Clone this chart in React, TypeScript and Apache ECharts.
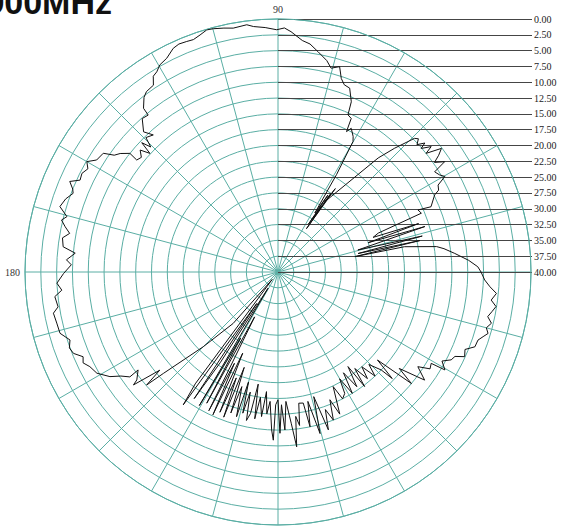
import React, { useEffect, useRef } from "react";
import * as echarts from "echarts";

// Measurement direction (degrees, counter-clockwise from the right) and attenuation (dB, 0 = outer ring)
const angleDeg = [
  0, 1.5, 3.5, 6, 8, 9.1, 11.3, 11.3, 12.5, 13, 14, 15.4, 17.2, 18, 19, 20, 21.2, 22.3, 23.9, 23.1,
  26.2, 27, 28.5, 29.8, 31, 32.6, 33.5, 35, 36, 37.1, 38.7, 39.3, 40.8, 41.3, 42.5, 43.5, 44.4, 46.7, 48.7, 56.4,
  55.5, 56.7, 56, 57, 56.5, 57.5, 57, 58, 59, 60.1, 61, 63, 64, 64.5, 66, 66.7, 68.7, 70.5, 71.9, 73.3,
  75.4, 77, 79.7, 82, 84, 86.9, 88.5, 90.3, 93, 95.7, 97.2, 100.4, 102.5, 104.9, 106.4, 108.2, 110, 111.6, 113.5, 115.1,
  117.5, 119.7, 121.2, 122.5, 123.7, 126.1, 127.5, 129.4, 129.6, 131.5, 133.8, 132.3, 134.5, 135.5, 136.5, 137.2, 138.5, 140, 141.6, 141.3,
  143.1, 144.5, 145.8, 148.3, 150, 151.5, 153.3, 155.1, 156.5, 158, 159, 161, 163.3, 165.3, 166.5, 168, 169.5, 171, 173.3, 174.7,
  176.7, 178, 180.4, 182.9, 184.8, 186.3, 189, 190.4, 193, 195.7, 198.1, 200, 201.7, 203.5, 205, 206.7, 209.2, 211.9, 213.5, 215.3,
  215, 217.4, 218, 219.7, 220.7, 221.5, 225, 228.9, 232, 233.5, 234.5, 236, 236.5, 237.5, 238.5, 239.5, 240.5, 241.5, 242.5, 243.5,
  244.5, 245.5, 246.5, 247.5, 248.5, 249.5, 250.5, 251.5, 252.5, 254, 255, 256, 257, 258, 259, 260, 261, 262, 263.5, 264.5,
  265.5, 266.5, 267.7, 268.4, 269, 270, 270.7, 271.5, 272.5, 273.5, 275, 276.1, 277, 278, 279, 280.9, 281.7, 283, 284.6, 286,
  287.7, 289, 290.5, 292.1, 293.5, 295.7, 297, 298.8, 300, 301.5, 303, 304.5, 306.5, 307.1, 308.5, 310, 311.5, 313, 314.5, 316.5,
  317, 318.5, 320.1, 321.5, 323.6, 325.9, 327.5, 329.2, 329.6, 331.5, 333.1, 334.5, 335.6, 337.5, 339.2, 341.2, 342.5, 343.7, 345, 346.5,
  348, 349.5, 351, 352.5, 354.4, 356, 357.8, 360,
];

const gainDb = [
  7.9, 8.4, 9.8, 11.9, 13.5, 14.6, 19.6, 27.6, 17, 27, 16.5, 26.9, 15.7, 25, 16.5, 24, 23, 15.5, 15.8, 13.7,
  12.4, 11.5, 11.2, 9.6, 10.2, 10.6, 8.4, 9.8, 8.6, 7.6, 10, 8.7, 10.1, 9.1, 10.2, 9.4, 9.8, 13.1, 16, 26.7,
  24, 31.8, 25, 30, 27.5, 31, 25.5, 29, 22, 16.2, 15.5, 14.5, 15.3, 13.1, 12.8, 10.7, 8.8, 8.6, 7.8, 6.1,
  6.7, 5.7, 4.6, 3.6, 3.2, 1.95, 1.4, 1.7, 1.3, 1.0, 0.6, 0.8, 0.5, 0.2, 0.1, 0.55, 0.9, 0.8, 0.7, 0.95,
  1.9, 2.3, 3.0, 3.3, 4.5, 4.7, 5.2, 6.5, 7.8, 7.6, 9.3, 10.7, 10.2, 11.8, 10.3, 12.4, 10.9, 11.8, 11.5, 10,
  8.8, 8.2, 6.6, 6.3, 5.1, 5.8, 5.3, 5.5, 4.1, 5.0, 5.3, 4.5, 4.0, 5.5, 4.8, 5.6, 6.5, 5.5, 5.8, 7.8,
  6.5, 7.3, 6.1, 5.0, 5.7, 4.5, 4.8, 3.9, 4.1, 4.2, 5.4, 4.9, 5.2, 6.4, 6.0, 6.7, 7.2, 8.7, 10.2, 11.3,
  13, 11.9, 11, 15.7, 12.6, 15.8, 23.3, 29.2, 38.5, 18, 14.2, 34, 16, 23, 37, 15.5, 28, 16.4, 32, 15.5,
  24, 15.2, 26, 16, 22, 15.5, 24, 16.5, 21, 16.2, 22, 17, 20.5, 16, 17.2, 22, 16.5, 20, 17, 21,
  17.5, 19.5, 15, 13.4, 19, 19.8, 14.5, 19, 15, 19.5, 16, 12.2, 17, 15.5, 19, 18.9, 15, 19, 13.6, 19.5,
  13.8, 17, 15, 18.2, 15.5, 19.9, 17.5, 18.1, 20.5, 17.5, 21, 18, 21.4, 17.3, 20.5, 18, 20, 17.5, 19.5, 17.5,
  15.3, 19, 12.5, 15.5, 11.2, 13.3, 11.5, 11.8, 9.4, 10.5, 9.3, 9.0, 7.6, 8.0, 6.7, 6.6, 6.0, 5.4, 5.9, 5.3,
  6.1, 5.6, 5.1, 6.0, 5.3, 6.4, 7.3, 7.9,
];

const shownAngleLabels = [90, 180];
const titleText = "900MHz";

const TEAL = "#5aaea4";

export default function App() {
  const ref = useRef<HTMLDivElement>(null);

  useEffect(() => {
    if (!ref.current) return;
    const chart = echarts.init(ref.current, null, { renderer: "svg" });
    const data = angleDeg.map((a, i) => [gainDb[i], a]);

    chart.setOption({
      animation: false,
      backgroundColor: "#ffffff",
      polar: { center: [278, 272], radius: 253 },
      angleAxis: {
        type: "value",
        min: 0,
        max: 360,
        interval: 15,
        startAngle: 0,
        clockwise: false,
        axisLine: { lineStyle: { color: TEAL, width: 1 } },
        axisTick: { show: false },
        splitLine: { lineStyle: { color: TEAL, width: 1 } },
        axisLabel: {
          formatter: (v: number) => (shownAngleLabels.includes(v) ? String(v) : ""),
          fontFamily: "Liberation Serif",
          fontSize: 10,
          color: "#333",
          margin: 5,
        },
      },
      radiusAxis: {
        type: "value",
        min: 0,
        max: 40,
        interval: 2.5,
        inverse: true,
        axisLine: { show: false },
        axisTick: { show: false },
        axisLabel: { show: false },
        splitLine: { lineStyle: { color: TEAL, width: 1 } },
      },
      grid: { left: 278, top: 19, width: 254, height: 253, show: false },
      xAxis: { type: "value", min: 0, max: 1, show: false },
      yAxis: {
        type: "value",
        position: "right",
        inverse: true,
        min: 0,
        max: 40,
        interval: 2.5,
        axisLine: { show: false },
        axisTick: { show: false },
        axisLabel: {
          formatter: (v: number) => v.toFixed(2),
          fontFamily: "Liberation Serif",
          fontSize: 10,
          color: "#222",
          margin: 2,
        },
        splitLine: { lineStyle: { color: "#454545", width: 1.2 } },
      },
      series: [
        {
          type: "line",
          coordinateSystem: "polar",
          data,
          showSymbol: false,
          silent: true,
          lineStyle: { color: "#111", width: 1 },
        },
      ],
      graphic: [
        {
          type: "text",
          x: 112,
          y: 19,
          style: {
            text: titleText,
            align: "right",
            verticalAlign: "bottom",
            font: 'bold 34px "Liberation Sans", Arial, sans-serif',
            fill: "#111",
          },
        },
      ],
    });

    return () => chart.dispose();
  }, []);

  return (
    <div
      ref={ref}
      style={{ position: "fixed", left: 0, top: 0, width: 563, height: 529, background: "#fff" }}
    />
  );
}
